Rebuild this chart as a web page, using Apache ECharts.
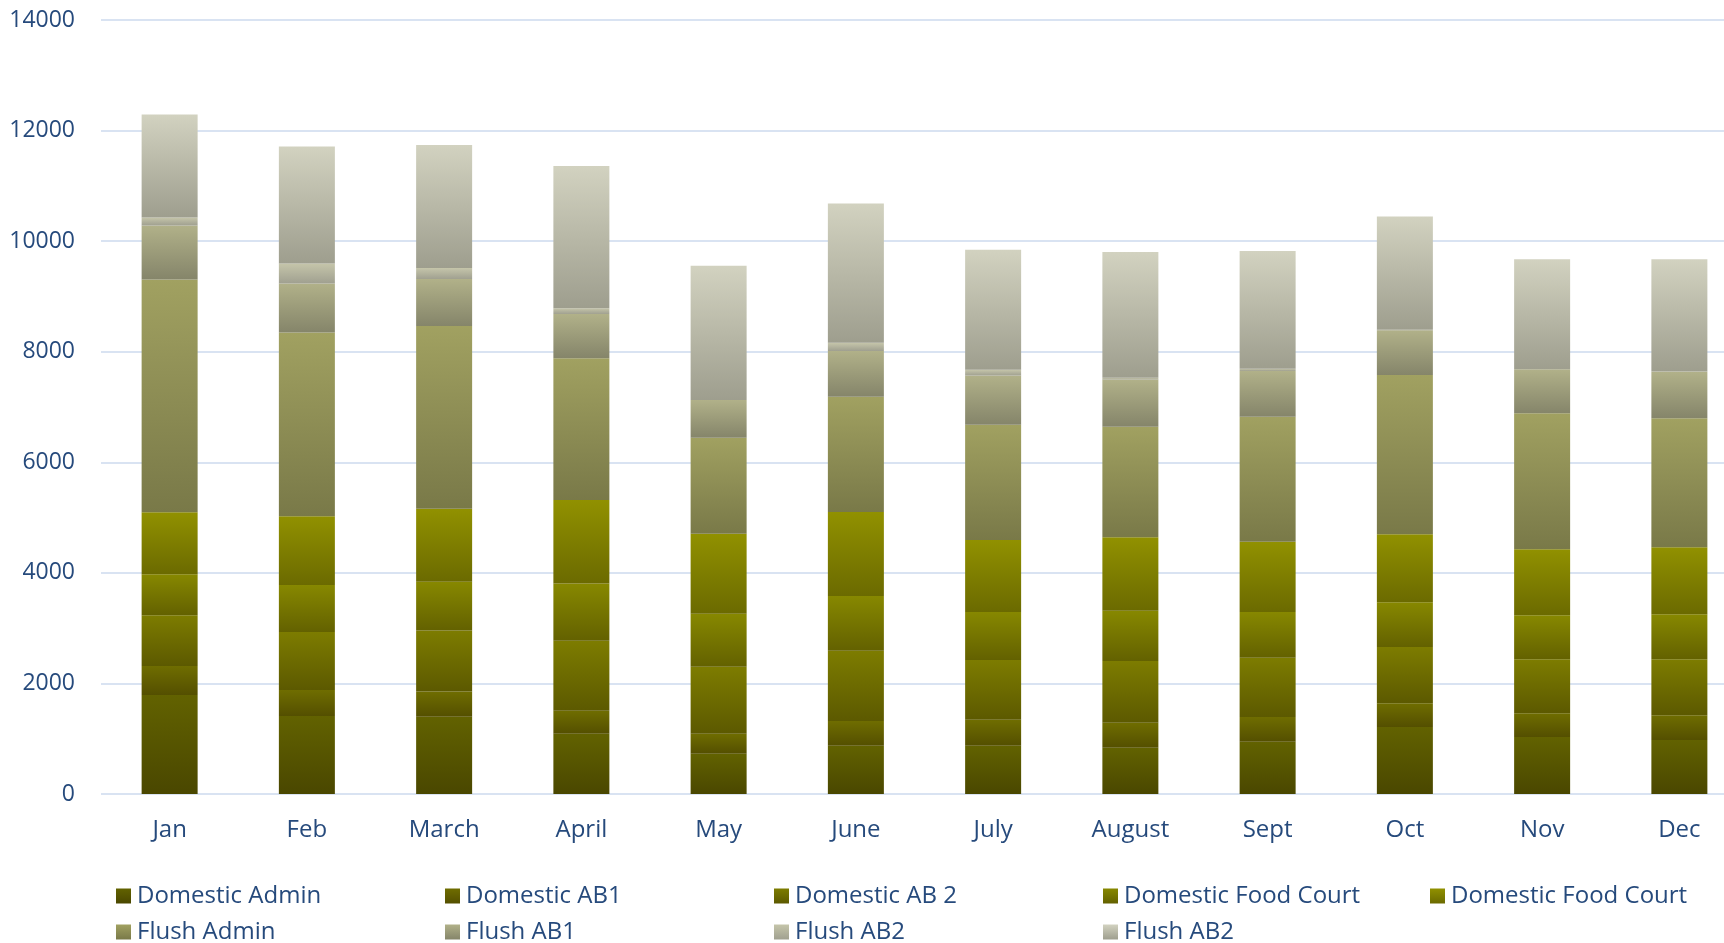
<!DOCTYPE html>
<html>
<head>
<meta charset="utf-8">
<script src="https://cdn.jsdelivr.net/npm/echarts@6/dist/echarts.min.js"></script>
<style>
html,body{margin:0;padding:0;background:#fff;}
#chart{width:1724px;height:943px;}
</style>
</head>
<body>
<div id="chart"></div>
<script>
const months = ['Jan','Feb','March','April','May','June','July','August','Sept','Oct','Nov','Dec'];
const yTicks = [0,2000,4000,6000,8000,10000,12000,14000];

const domesticAdmin      = [1790,1411,1398,1089,730,874,874,835,947,1211,1031,976];
const domesticAB1        = [525,468,455,417,361,448,467,454,447,429,429,450];
const domesticAB2        = [919,1049,1105,1266,1210,1269,1085,1117,1072,1017,976,1010];
const domesticFoodCourt  = [742,854,880,1035,960,992,868,908,828,810,796,816];
const domesticFoodCourt2 = [1121,1242,1320,1513,1447,1519,1302,1328,1269,1232,1197,1211];
const flushAdmin         = [4210,3323,3305,2564,1736,2085,2084,1999,2262,2878,2456,2332];
const flushAB1           = [976,887,850,796,683,828,888,855,828,810,796,838];
const flushAB2           = [145,363,201,108,0,145,105,32,40,10,0,15];
const flushAB2b          = [1863,2113,2223,2571,2426,2519,2170,2275,2130,2048,1993,2026];

const seriesLabels = ['Domestic Admin','Domestic AB1','Domestic AB 2','Domestic Food Court','Domestic Food Court','Flush Admin','Flush AB1','Flush AB2','Flush AB2'];
const seriesData = [domesticAdmin,domesticAB1,domesticAB2,domesticFoodCourt,domesticFoodCourt2,flushAdmin,flushAB1,flushAB2,flushAB2b];
const gradTop    = ['#626200','#6f6d00','#7d7c00','#878800','#919100','#a1a161','#b1b189','#c5c5aa','#d2d2c0'];
const gradBottom = ['#4a4700','#544f00','#5c5900','#636100','#6b6a00','#797948','#85856a','#a0a090','#9e9e8e'];

const textColor = '#264a7c';
const fontFamily = '"Open Sans", "Noto Sans", sans-serif';

const chart = echarts.init(document.getElementById('chart'));

const series = seriesData.map((d, i) => ({
  name: 'S' + i,
  type: 'bar',
  stack: 'total',
  barWidth: 56,
  data: d,
  itemStyle: {
    color: new echarts.graphic.LinearGradient(0, 0, 0, 1, [
      {offset: 0, color: gradTop[i]},
      {offset: 1, color: gradBottom[i]}
    ])
  },
  emphasis: {disabled: true}
}));

const colX = [116, 445, 774, 1103, 1430];
const rowY = [884, 920];
const legends = seriesLabels.map((lab, i) => ({
  show: true,
  data: ['S' + i],
  left: colX[i % 5],
  top: rowY[Math.floor(i / 5)],
  orient: 'horizontal',
  icon: 'rect',
  itemWidth: 15,
  itemHeight: 15,
  itemGap: 0,
  padding: 0,
  selectedMode: false,
  formatter: () => lab,
  textStyle: {fontSize: 24, color: textColor, fontFamily: fontFamily, padding: [0,0,0,1]}
}));

chart.setOption({
  backgroundColor: '#ffffff',
  animation: false,
  textStyle: {fontFamily: fontFamily},
  grid: {left: 101, width: 1647, top: 20, height: 774, containLabel: false, outerBoundsMode: 'none'},
  legend: legends,
  xAxis: {
    type: 'category',
    data: months,
    axisLine: {show: false},
    axisTick: {show: false},
    axisLabel: {fontSize: 24, color: textColor, margin: 24, fontFamily: fontFamily}
  },
  yAxis: {
    type: 'value',
    min: yTicks[0],
    max: yTicks[yTicks.length - 1],
    interval: yTicks[1] - yTicks[0],
    axisLine: {show: false},
    axisTick: {show: false},
    splitLine: {show: true, lineStyle: {color: '#d9e3f2', width: 2}},
    axisLabel: {fontSize: 23, color: textColor, margin: 26, fontFamily: fontFamily, formatter: v => String(v)}
  },
  series: series
});
</script>
</body>
</html>
